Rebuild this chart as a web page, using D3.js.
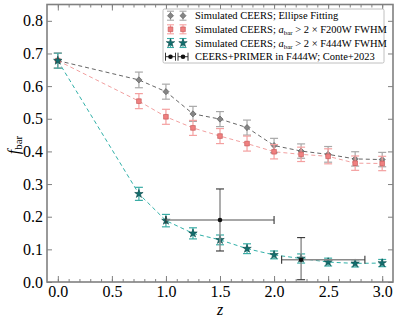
<!DOCTYPE html>
<html>
<head>
<meta charset="utf-8">
<script src="https://cdn.jsdelivr.net/npm/d3@7"></script>
<style>
  body { margin: 0; background: #fff; }
  svg { font-family: "Liberation Serif", "DejaVu Serif", serif; }
</style>
</head>
<body>
<svg id="chart" width="398" height="324"></svg>
<script>
// redshift bins of the simulated samples
var zSim = [0, 0.75, 1.0, 1.25, 1.5, 1.75, 2.0, 2.25, 2.5, 2.75, 3.0];

// Simulated CEERS; Ellipse Fitting
var fEllipse = [0.678, 0.619, 0.583, 0.515, 0.499, 0.473, 0.418, 0.401, 0.391, 0.377, 0.375];
var errEllipse = [0.023, 0.024, 0.023, 0.023, 0.023, 0.023, 0.022, 0.022, 0.024, 0.022, 0.022];

// Simulated CEERS; a_bar > 2 x F200W FWHM
var fF200 = [0.678, 0.554, 0.506, 0.472, 0.447, 0.424, 0.399, 0.391, 0.385, 0.364, 0.363];
var errF200 = [0.023, 0.023, 0.023, 0.023, 0.023, 0.023, 0.022, 0.022, 0.023, 0.022, 0.022];

// Simulated CEERS; a_bar > 2 x F444W FWHM
var fF444 = [0.678, 0.270, 0.188, 0.149, 0.129, 0.102, 0.083, 0.072, 0.061, 0.057, 0.058];
var errF444 = [0.023, 0.020, 0.019, 0.017, 0.015, 0.015, 0.012, 0.014, 0.012, 0.011, 0.011];

// CEERS+PRIMER in F444W; Conte+2023
var zConte = [1.5, 2.25];
var zConteLo = [1.0, 2.07];
var zConteHi = [2.0, 2.84];
var fConte = [0.19, 0.068];
var fConteLo = [0.095, 0.007];
var fConteHi = [0.285, 0.136];

var xTicks = [0.0, 0.5, 1.0, 1.5, 2.0, 2.5, 3.0];
var yTicks = [0.0, 0.1, 0.2, 0.3, 0.4, 0.5, 0.6, 0.7, 0.8];

var legendLabels = [
  "Simulated CEERS; Ellipse Fitting",
  "Simulated CEERS; a_bar > 2 × F200W FWHM",
  "Simulated CEERS; a_bar > 2 × F444W FWHM",
  "CEERS+PRIMER in F444W; Conte+2023"
];

var margin = {left: 47, right: 5, top: 4.5, bottom: 42};
var W = 398, H = 324;

var svg = d3.select("#chart");

var x = d3.scaleLinear().domain([-0.1, 3.1]).range([margin.left, W - margin.right]);
var y = d3.scaleLinear().domain([0, 0.85]).range([H - margin.bottom, margin.top]);

var axisCol = "#808080";

var series = [
  {f: fEllipse, e: errEllipse, line: "#666666", err: "#a8a8a8", fill: "#858585", edge: "#555555", sym: d3.symbolDiamond2, size: 24, dash: "4,3"},
  {f: fF200, e: errF200, line: "#f2a0a0", err: "#f4a0a0", fill: "#f08080", edge: "#c05050", sym: d3.symbolSquare, size: 22, dash: "4,3"},
  {f: fF444, e: errF444, line: "#30b0a8", err: "#3aaca5", fill: "#126e6e", edge: "#0a4848", sym: d3.symbolStar, size: 22, dash: "4,3"}
];

var plot = svg.append("g");

// dashed connecting lines
series.forEach(function(s) {
  plot.append("path")
      .datum(zSim.map(function(z, i) { return [z, s.f[i]]; }))
      .attr("fill", "none")
      .attr("stroke", s.line)
      .attr("stroke-width", 1)
      .attr("stroke-dasharray", s.dash)
      .attr("d", d3.line().x(function(d) { return x(d[0]); }).y(function(d) { return y(d[1]); }));
});

// error bars + markers
series.forEach(function(s) {
  var g = plot.append("g");
  zSim.forEach(function(z, i) {
    var cx = x(z), y0 = y(s.f[i] - s.e[i]), y1 = y(s.f[i] + s.e[i]);
    g.append("line").attr("x1", cx).attr("x2", cx).attr("y1", y0).attr("y2", y1)
        .attr("stroke", s.err).attr("stroke-width", 1.2);
    [y0, y1].forEach(function(yy) {
      g.append("line").attr("x1", cx - 4).attr("x2", cx + 4).attr("y1", yy).attr("y2", yy)
          .attr("stroke", s.err).attr("stroke-width", 1.2);
    });
  });
  zSim.forEach(function(z, i) {
    g.append("path")
        .attr("d", d3.symbol().type(s.sym).size(s.size))
        .attr("transform", "translate(" + x(z) + "," + y(s.f[i]) + ")")
        .attr("fill", s.fill).attr("stroke", s.edge).attr("stroke-width", 0.6);
  });
});

// Conte+2023 points
var cg = plot.append("g");
zConte.forEach(function(z, i) {
  var cy = y(fConte[i]), cx = x(z);
  var xl = x(zConteLo[i]), xr = x(zConteHi[i]);
  var yt = y(fConteHi[i]), yb = y(fConteLo[i]);
  cg.append("line").attr("x1", xl).attr("x2", xr).attr("y1", cy).attr("y2", cy)
      .attr("stroke", "#8a8a8a").attr("stroke-width", 1.4);
  cg.append("line").attr("x1", cx).attr("x2", cx).attr("y1", yt).attr("y2", yb)
      .attr("stroke", "#8a8a8a").attr("stroke-width", 1.4);
  [xl, xr].forEach(function(xx) {
    cg.append("line").attr("x1", xx).attr("x2", xx).attr("y1", cy - 4).attr("y2", cy + 4)
        .attr("stroke", "#333").attr("stroke-width", 1.1);
  });
  [yt, yb].forEach(function(yy) {
    cg.append("line").attr("x1", cx - 4).attr("x2", cx + 4).attr("y1", yy).attr("y2", yy)
        .attr("stroke", "#333").attr("stroke-width", 1.1);
  });
  cg.append("circle").attr("cx", cx).attr("cy", cy).attr("r", 2.3).attr("fill", "#111");
});

// axes (ticks inward)
function minorTicks() { return d3.range(0, 31).map(function(i) { return i / 10; }); }

svg.append("g").attr("transform", "translate(0," + (H - margin.bottom) + ")")
    .call(d3.axisBottom(x).tickValues(xTicks).tickSize(-6).tickFormat(d3.format(".1f")).tickPadding(4))
    .call(function(g) { g.select(".domain").remove(); });
svg.append("g").attr("transform", "translate(0," + (H - margin.bottom) + ")")
    .call(d3.axisBottom(x).tickValues(minorTicks()).tickSize(-3).tickFormat(""))
    .call(function(g) { g.select(".domain").remove(); });
svg.append("g").attr("transform", "translate(0," + margin.top + ")")
    .call(d3.axisTop(x).tickValues(xTicks).tickSize(-6).tickFormat(""))
    .call(function(g) { g.select(".domain").remove(); });
svg.append("g").attr("transform", "translate(0," + margin.top + ")")
    .call(d3.axisTop(x).tickValues(minorTicks()).tickSize(-3).tickFormat(""))
    .call(function(g) { g.select(".domain").remove(); });
svg.append("g").attr("transform", "translate(" + margin.left + ",0)")
    .call(d3.axisLeft(y).tickValues(yTicks).tickSize(-5).tickFormat(d3.format(".1f")).tickPadding(4))
    .call(function(g) { g.select(".domain").remove(); });
svg.append("g").attr("transform", "translate(" + (W - margin.right) + ",0)")
    .call(d3.axisRight(y).tickValues(yTicks).tickSize(-5).tickFormat(""))
    .call(function(g) { g.select(".domain").remove(); });

svg.selectAll(".tick line").attr("stroke", axisCol);
svg.selectAll(".tick text").attr("font-size", 16).attr("fill", "#000")
    .attr("font-family", "Liberation Serif, serif");

// frame
svg.append("rect")
    .attr("x", margin.left).attr("y", margin.top)
    .attr("width", W - margin.left - margin.right).attr("height", H - margin.top - margin.bottom)
    .attr("fill", "none").attr("stroke", axisCol).attr("stroke-width", 1.6);

// axis labels
svg.append("text").attr("x", x(1.5)).attr("y", 315).attr("text-anchor", "middle")
    .attr("font-size", 16).attr("font-style", "italic").text("z");

var yl = svg.append("text").attr("transform", "translate(19,145) rotate(-90)")
    .attr("text-anchor", "middle").attr("font-size", 16);
yl.append("tspan").attr("font-style", "italic").text("f");
yl.append("tspan").attr("font-size", 11).attr("dy", 3).text("bar");

// legend
var lg = svg.append("g");
lg.append("rect").attr("x", 163).attr("y", 9).attr("width", 221).attr("height", 54)
    .attr("rx", 1.5).attr("fill", "#fff").attr("stroke", "#b0b0b0").attr("stroke-width", 0.8);

var rowY = [15.7, 29.3, 43, 56.7];
series.forEach(function(s, i) {
  [170.5, 183].forEach(function(mx) {
    lg.append("line").attr("x1", mx).attr("x2", mx).attr("y1", rowY[i] - 4.5).attr("y2", rowY[i] + 4.5)
        .attr("stroke", s.err).attr("stroke-width", 1.1);
    [rowY[i] - 4.5, rowY[i] + 4.5].forEach(function(yy) {
      lg.append("line").attr("x1", mx - 3.5).attr("x2", mx + 3.5).attr("y1", yy).attr("y2", yy)
          .attr("stroke", s.err).attr("stroke-width", 1.1);
    });
    lg.append("path").attr("d", d3.symbol().type(s.sym).size(s.size))
        .attr("transform", "translate(" + mx + "," + rowY[i] + ")")
        .attr("fill", s.fill).attr("stroke", s.edge).attr("stroke-width", 0.6);
  });
});
[170.5, 183].forEach(function(mx) {
  var yy = rowY[3];
  lg.append("line").attr("x1", mx - 5).attr("x2", mx + 5).attr("y1", yy).attr("y2", yy).attr("stroke", "#333");
  [mx - 5, mx + 5].forEach(function(xx) {
    lg.append("line").attr("x1", xx).attr("x2", xx).attr("y1", yy - 4).attr("y2", yy + 4).attr("stroke", "#333");
  });
  lg.append("circle").attr("cx", mx).attr("cy", yy).attr("r", 2.3).attr("fill", "#111");
});

legendLabels.forEach(function(lab, i) {
  var t = lg.append("text").attr("x", 195).attr("y", rowY[i] + 3.5).attr("font-size", 10.5);
  var m = lab.match(/^(.*)a_bar(.*)$/);
  if (m) {
    t.append("tspan").text(m[1]);
    t.append("tspan").attr("font-style", "italic").text("a");
    t.append("tspan").attr("font-size", 7).attr("dy", 2).text("bar");
    t.append("tspan").attr("dy", -2).text(m[2]);
  } else {
    t.text(lab);
  }
});
</script>
</body>
</html>
